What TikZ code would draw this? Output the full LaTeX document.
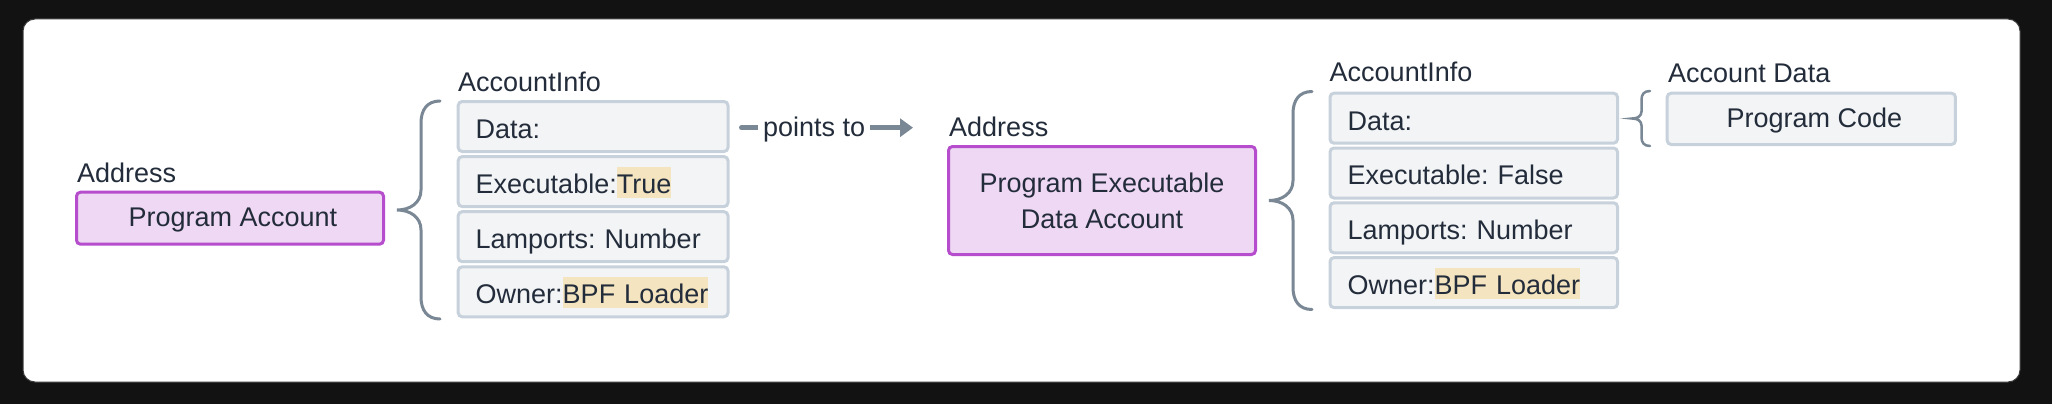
\documentclass[tikz,border=0pt]{standalone}
\usepackage{fontspec}
\setmainfont{Liberation Sans}
\usetikzlibrary{arrows.meta,calc}
\definecolor{bgdark}{HTML}{121212}
\definecolor{cardborder}{HTML}{3A3A3A}
\definecolor{txtcol}{HTML}{232C3A}
\definecolor{pborder}{HTML}{B54DCC}
\definecolor{pfill}{HTML}{EFD8F3}
\definecolor{rborder}{HTML}{C7D1DB}
\definecolor{rfill}{HTML}{F3F4F6}
\definecolor{hlcol}{HTML}{F4E5C0}
\definecolor{gline}{HTML}{7A8795}
\newcommand\hlbox[1]{{\setlength{\fboxsep}{0pt}\colorbox{hlcol}{\rule[-4.2pt]{0pt}{31pt}#1}}}
\frenchspacing
\begin{document}
\begin{tikzpicture}[x=1pt,y=-1pt,
  font=\fontsize{27}{36}\selectfont\frenchspacing, text=txtcol,
  lbl/.style={anchor=base west, inner sep=0pt},
  purplebox/.style={draw=pborder, fill=pfill, line width=3pt, rounded corners=4pt, inner sep=0pt, minimum width=307pt},
  rowbox/.style={draw=rborder, fill=rfill, line width=3pt, rounded corners=4pt, inner xsep=17.5pt, inner ysep=0pt,
     align=left, text height=27.8pt, text depth=4.2pt, minimum height=50pt},
  codebox/.style={draw=rborder, fill=rfill, line width=3pt, rounded corners=4pt, inner sep=0pt,
     minimum width=288.3pt, minimum height=51.3pt, text height=19pt, text depth=1.5pt},
  bracestroke/.style={draw=gline, line width=3pt, line cap=round},
  conn/.style={draw=gline, line width=5pt, line cap=round, -{Triangle[length=13pt,width=18pt]}},
  pics/bigbrace/.style={code={
    \draw[bracestroke] (0,-109) .. controls (-13,-109) and (-19,-100) .. (-19,-87)
      -- (-19,-20) .. controls (-19,-7) and (-30,0) .. (-43,0)
      .. controls (-30,0) and (-19,7) .. (-19,20)
      -- (-19,87) .. controls (-19,100) and (-13,109) .. (0,109);
  }},
  pics/smallbrace/.style={code={
    \draw[bracestroke, line width=2.5pt] (0,-27.5) .. controls (-6,-27.5) and (-8.5,-24) .. (-8.5,-19)
      -- (-8.5,-7) .. controls (-8.5,-2) and (-13,0) .. (-18,0)
      .. controls (-13,0) and (-8.5,2) .. (-8.5,7)
      -- (-8.5,19) .. controls (-8.5,24) and (-6,27.5) .. (0,27.5);
  }}
]
\useasboundingbox (0,0) rectangle (2052,404);
\fill[bgdark] (0,0) rectangle (2052,404);
\path[draw=cardborder, line width=1pt, fill=white, rounded corners=12pt] (23,19) rectangle (2020,382);

% left group
\node[lbl] (addr1) at (77,182.7) {Address};
\node[purplebox, minimum height=52pt, text height=19pt, text depth=1.5pt] (pa) at (230,218.2) {\hspace*{6pt}Program Account};
\pic at (440,210) {bigbrace};
\node[lbl] (ai1) at (458,92) {AccountInfo};
\node[rowbox, text width=234.8pt] (a1) at (593.1,126.5) {Data:};
\node[rowbox, text width=234.8pt] (a2) at (593.1,181.6) {Executable:\hlbox{True}};
\node[rowbox, text width=234.8pt] (a3) at (593.1,236.7) {Lamports: Number};
\node[rowbox, text width=234.8pt] (a4) at (593.1,291.8) {Owner:\hlbox{BPF Loader}};

% arrow
\coordinate (arrS) at ($(a1.east)+(12,1.2)$);
\coordinate (arrE) at (913,127.7);
\draw[conn] (arrS) -- node[pos=0.424, fill=white, inner xsep=5pt, inner ysep=0pt, text height=19.3pt, text depth=2.7pt] (pt) {points to} (arrE);

% middle group
\node[lbl] (addr2) at (949,136.7) {Address};
\node[purplebox, minimum height=108pt, align=center] (pe) at (1102,200.5) {Program Executable\\Data Account};
\pic at (1312,200.5) {bigbrace};
\node[lbl] (ai2) at (1329.5,81.7) {AccountInfo};
\node[rowbox, text width=252.5pt] (b1) at (1473.75,118.2) {Data:};
\node[rowbox, text width=252.5pt] (b2) at (1473.75,173) {Executable: False};
\node[rowbox, text width=252.5pt] (b3) at (1473.75,227.8) {Lamports: Number};
\node[rowbox, text width=252.5pt] (b4) at (1473.75,282.6) {Owner:\hlbox{BPF Loader}};

% right group
\pic at (1650,118.5) {smallbrace};
\node[lbl] (ad) at (1668,82.7) {Account Data};
\node[codebox] (pc) at (1811.3,118.85) {\hspace*{6pt}Program Code};
\end{tikzpicture}
\end{document}
